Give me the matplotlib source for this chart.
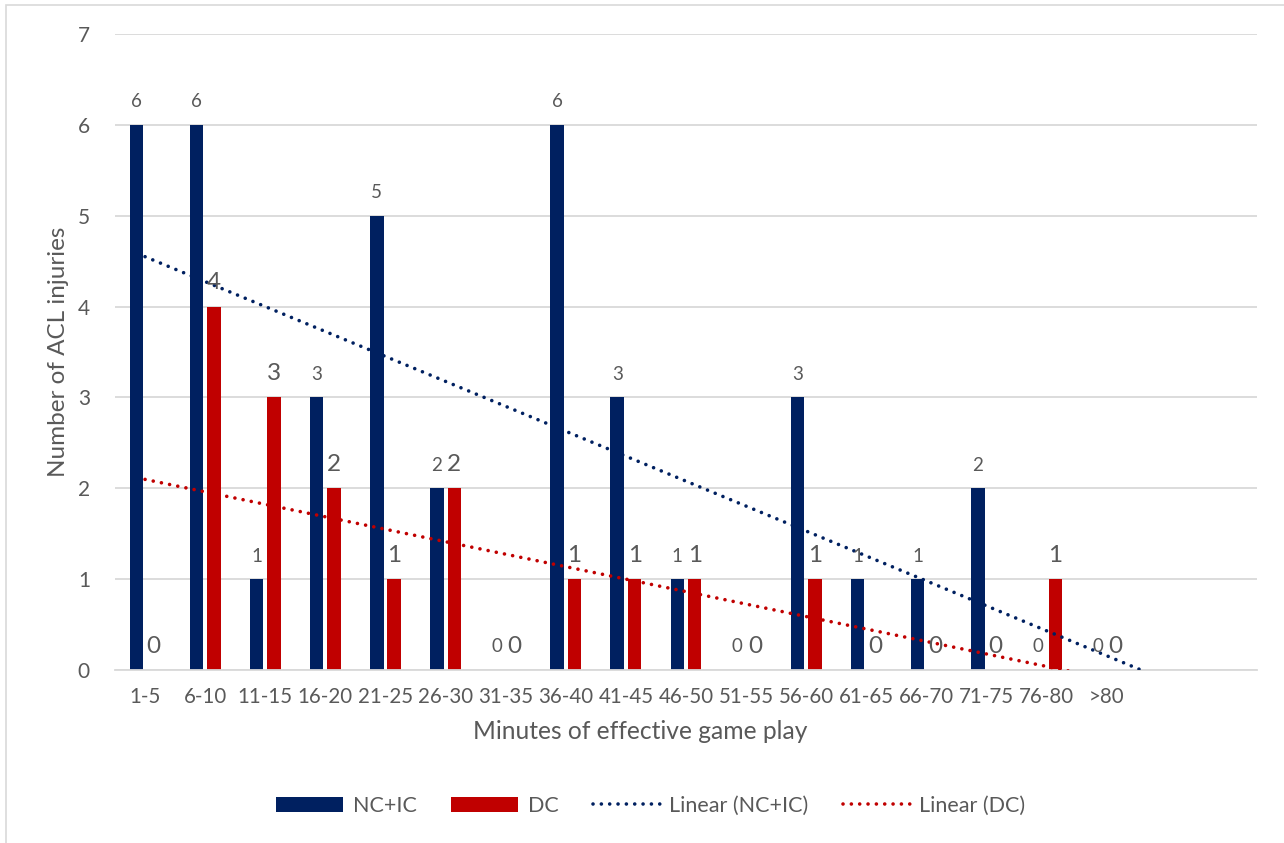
import numpy as np
import matplotlib
matplotlib.use("Agg")
from matplotlib import pyplot as plt
from matplotlib.patches import Rectangle

plt.rcParams['font.family'] = ['Lato', 'DejaVu Sans']

# ACL injuries per block of effective game play
categories = ['1-5', '6-10', '11-15', '16-20', '21-25', '26-30', '31-35', '36-40',
              '41-45', '46-50', '51-55', '56-60', '61-65', '66-70', '71-75', '76-80', '>80']
nc_ic = [6, 6, 1, 3, 5, 2, 0, 6, 3, 1, 0, 3, 1, 1, 2, 0, 0]
dc = [0, 4, 3, 2, 1, 2, 0, 1, 1, 1, 0, 1, 0, 0, 0, 1, 0]
n_slots = 19  # axis keeps two empty slots after >80

NAVY = '#002060'
RED = '#C00000'
GREY_TXT = '#595959'
GRID = '#D9D9D9'

fig = plt.figure(figsize=(12.84, 8.43), dpi=100)
ax = fig.add_axes([115 / 1284, 1 - 670 / 843, 1142 / 1284, 636 / 843])

# outer chart border
fig.patches.append(Rectangle((6 / 1284, -0.1), 1.2, 1 - 5 / 843 + 0.1,
                             transform=fig.transFigure, fill=False,
                             edgecolor=GRID, linewidth=1.2, zorder=0))

x = np.arange(len(categories))
w = 0.225
off = 0.145
bar_nc = ax.bar(x - off, nc_ic, w, color=NAVY, label='NC+IC', zorder=2)
bar_dc = ax.bar(x + off, dc, w, color=RED, label='DC', zorder=2)

# value labels (DC labels are set larger)
for xi, v in zip(x - off, nc_ic):
    ax.annotate(str(v), (xi, v), xytext=(0, 12.7), textcoords='offset points',
                ha='center', va='baseline', fontsize=13.5, color=GREY_TXT, zorder=4)
for xi, v in zip(x + off, dc):
    ax.annotate(str(v), (xi, v), xytext=(0, 12.3), textcoords='offset points',
                ha='center', va='baseline', fontsize=17.5, color=GREY_TXT, zorder=4)

# linear trend lines
xt = np.linspace(0, n_slots - 1, 200)
trends = []
for series, col, name in [(nc_ic, NAVY, 'Linear (NC+IC)'), (dc, RED, 'Linear (DC)')]:
    k, b = np.polyfit(x, series, 1)
    ln, = ax.plot(xt, k * xt + b, color=col, linewidth=2.6, linestyle=(0, (0.01, 2.3)),
                  dash_capstyle='round', label=name, zorder=3)
    trends.append(ln)

ax.set_xlim(-0.5, n_slots - 0.5)
ax.set_ylim(0, 7)
ax.set_yticks(range(8))
ax.set_xticks(x)
ax.set_xticklabels(categories)
ax.tick_params(axis='both', length=0, colors=GREY_TXT)
ax.tick_params(axis='x', labelsize=14.8, pad=12)
ax.tick_params(axis='y', labelsize=15, pad=18)
ax.yaxis.grid(True, color=GRID, linewidth=1.3, zorder=0)
ax.set_axisbelow(True)
for s in ['top', 'right', 'left']:
    ax.spines[s].set_visible(False)
ax.spines['bottom'].set_color(GRID)
ax.spines['bottom'].set_linewidth(1.3)

ax.set_xlabel('Minutes of effective game play', fontsize=17.7, color=GREY_TXT)
ax.xaxis.set_label_coords((640 - 115) / 1142, -(720 - 670) / 636)
ax.set_ylabel('Number of ACL injuries', fontsize=17.5, color=GREY_TXT)
ax.yaxis.set_label_coords(-(115 - 69) / 1142, 0.5)

leg = fig.legend(handles=[bar_nc, bar_dc] + trends,
                 loc='center', bbox_to_anchor=(651 / 1284, 1 - 806 / 843), ncol=4,
                 frameon=False, fontsize=15.5, handlelength=3.1, handletextpad=0.45,
                 columnspacing=1.6)
for t in leg.get_texts():
    t.set_color(GREY_TXT)

fig.savefig('out.png', dpi=100)
